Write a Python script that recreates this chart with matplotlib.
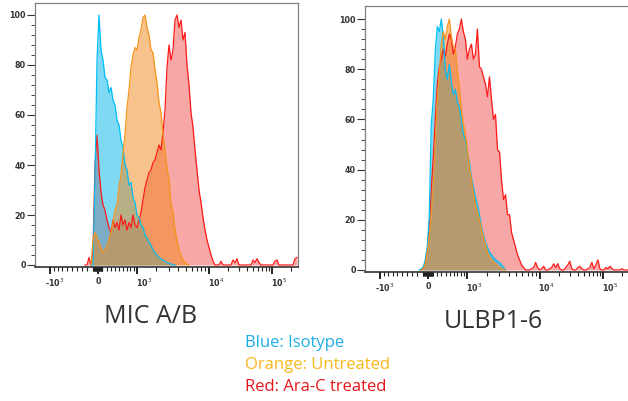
import numpy as np
import matplotlib.pyplot as plt
from matplotlib.transforms import ScaledTranslation

# histogram bins are in display channels (2 channels per bin), heights in % of max
STEP = 2

# MIC A/B panel
mic_blue_start = -6
mic_blue = [0, 0, 35, 82, 100, 86, 82, 75, 74, 69, 71, 66, 64, 58, 56, 50, 47, 40, 38, 32,
            33, 27, 25, 20, 19, 16, 15, 12, 11, 9, 8, 6, 5, 4, 3, 2.5, 2, 1.5, 1, 0.7,
            0.4, 0.2, 0]
mic_orange_start = -6
mic_orange = [0, 10, 13, 11, 9, 7, 5, 6, 8, 10, 13, 17, 22, 24, 31, 36, 45, 52, 63, 70,
              79, 84, 87, 86, 91, 94, 99, 100, 95, 92, 86, 85, 78, 73, 65, 61, 52, 46, 39, 34,
              25, 21, 14, 10, 6, 4, 2, 1, 0.5, 0]
mic_red_start = -12
mic_red = [0, 0, 3, 0, 6, 40, 52, 38, 29, 24, 22, 18, 15, 13, 18, 15, 17, 14, 20, 16,
           18, 14, 17, 15, 20, 16, 15, 18, 21, 26, 31, 34, 37, 38, 41, 42, 45, 48, 46, 53,
           62, 79, 88, 82, 86, 98, 100, 95, 98, 90, 93, 80, 72, 61, 55, 46, 38, 30, 25, 19,
           14, 10, 7, 4, 1.5, 0,
           0, 0, 1.5, 0, 0, 0, 0, 0, 2, 1, 2.5, 0, 0, 0, 0, 0, 0, 0, 2, 1,
           2.5, 1, 0, 0, 0, 0, 0, 0, 0, 1.5, 2, 0, 0, 0, 0, 0, 0, 0, 0, 2.5, 3]

# ULBP1-6 panel
ulbp_blue_start = -8
ulbp_blue = [0, 0.5, 1, 4, 9, 21, 58, 68, 87, 97, 95, 100, 93, 80, 76, 82, 75, 70, 72, 67,
             65, 60, 54, 52, 47, 43, 37, 33, 29, 26, 22, 17, 14, 11, 9, 7, 6, 5, 4, 3.5,
             3, 2, 1, 0]
ulbp_orange_start = -6
ulbp_orange = [0, 0.5, 2, 7, 13, 22, 33, 50, 68, 78, 90, 95, 92, 97, 100, 93, 89, 88, 79, 73,
               64, 58, 54, 48, 41, 36, 30, 26, 23, 20, 16, 13, 10, 7, 5, 4, 3, 2.5, 1.5, 1,
               0.5, 0.2, 0]
ulbp_red_start = -6
ulbp_red = [0, 1, 3, 8, 18, 32, 45, 60, 74, 81, 84, 88, 85, 90, 94, 92, 86, 89, 94, 96,
            100, 95, 92, 84, 88, 90, 84, 86, 96, 81, 80, 77, 74, 69, 77, 68, 60, 62, 48, 47,
            36, 28, 30, 22, 22, 15, 12, 9, 6, 4, 2, 1, 0,
            0, 0, 0.5, 1, 3, 1, 0, 0.5, 1.5, 0, 0, 0.5, 1, 2.5, 1, 2.5, 0.5, 0, 0, 1,
            2, 3.5, 0.5, 0, 0, 1, 1.5, 0.5, 0, 0, 0.5, 1, 3, 0.5, 2, 4, 0.5, 0, 0, 1,
            0.5, 1.5, 0.5, 0, 0, 0, 0, 0.5, 0, 0, 0, 0, 0, 0, 0, 0, 0, 0, 0]

# axis calibration: fluorescence value -> display channel
dec_values = [-1e3, 0, 1e3, 1e4, 1e5, 1e6]
dec_channels = [-47, 1, 40, 112, 175, 237]
major_values = [-1e3, 0, 1e3, 1e4, 1e5]
major_labels = ['-10$^{3}$', '0', '10$^{3}$', '10$^{4}$', '10$^{5}$']
label_shift_px = [5, 0, 7, 7, 7]

legend_lines = ['Blue: Isotype', 'Orange: Untreated', 'Red: Ara-C treated']
legend_colors = ['#1daee6', '#f6b719', '#e8161c']

W, H = 628, 401


def to_channel(v):
    u = np.arcsinh(np.asarray(v, dtype=float) / 1000.0)
    return np.interp(u, np.arcsinh(np.array(dec_values) / 1000.0), dec_channels)


minor_values = []
for k in range(1, 10):
    minor_values += [-100 * k, -10 * k, 10 * k, 100 * k, 1000 * k, 1e4 * k, 1e5 * k]
minor_values = [v for v in minor_values if abs(v) not in (1000, 1e4, 1e5)]

fig = plt.figure(figsize=(W / 100, H / 100), dpi=100)


def px_axes(l, t, r, b):
    return fig.add_axes([l / W, 1 - b / H, (r - l) / W, (b - t) / H])


def draw(ax, start, y, line, fill, alpha):
    y = np.array(y, dtype=float)
    x = start + STEP * np.arange(len(y))
    ax.fill_between(x, y, 0, color=fill, alpha=alpha, lw=0)
    ax.plot(x, y, color=line, lw=0.9)


def style(ax, ylim):
    ax.set_xticks(to_channel(major_values))
    ax.set_xticklabels(major_labels)
    ax.set_xticks(to_channel(minor_values), minor=True)
    ax.set_yticks(range(0, 101, 20))
    ax.set_yticks(range(0, 101, 4), minor=True)
    ax.set_xlim(-62, 201)
    ax.set_ylim(*ylim)
    ax.tick_params(axis='x', which='major', length=5, width=1.3, pad=2, color='#111111',
                   labelsize=5.8, labelcolor='#333333')
    ax.tick_params(axis='x', which='minor', length=2.8, width=0.8, color='#222222')
    ax.tick_params(axis='y', which='major', length=5.5, width=0.8, pad=1, color='#333333',
                   labelsize=5.8, labelcolor='#333333')
    ax.tick_params(axis='y', which='minor', length=2.8, width=0.7, color='#444444')
    for lab in ax.get_yticklabels():
        lab.set_fontweight('bold')
    for lab, dx in zip(ax.get_xticklabels(), label_shift_px):
        lab.set_fontweight('bold')
        lab.set_transform(lab.get_transform() + ScaledTranslation(dx / 100, 0, fig.dpi_scale_trans))
    for side in ['top', 'right', 'left']:
        ax.spines[side].set_color('#808080')
        ax.spines[side].set_linewidth(0.9)
    ax.spines['bottom'].set_color('#222222')
    ax.spines['bottom'].set_linewidth(1.1)


axL = px_axes(35, 3, 298, 267)
draw(axL, mic_red_start, mic_red, '#ff1a1a', '#f03c3c', 0.45)
draw(axL, mic_blue_start, mic_blue, '#00bff5', '#00b4e6', 0.5)
draw(axL, mic_orange_start, mic_orange, '#f7941d', '#f08719', 0.5)
style(axL, (-0.8, 104.8))

axR = px_axes(365, 6, 629, 272)
draw(axR, ulbp_red_start, ulbp_red, '#ff1a1a', '#f03c3c', 0.45)
draw(axR, ulbp_blue_start, ulbp_blue, '#00bff5', '#00b4e6', 0.5)
draw(axR, ulbp_orange_start, ulbp_orange, '#f7941d', '#f08719', 0.5)
style(axR, (-0.8, 105.2))

fig.text(150.5 / W, 1 - 323 / H, 'MIC A/B', ha='center', va='baseline',
         fontsize=18, family='Open Sans', color='#333333')
fig.text(493.5 / W, 1 - 328 / H, 'ULBP1-6', ha='center', va='baseline',
         fontsize=18, family='Open Sans', color='#333333')

for i, (txt, col) in enumerate(zip(legend_lines, legend_colors)):
    fig.text(245 / W, 1 - (347 + 22 * i) / H, txt, ha='left', va='baseline',
             fontsize=12, family='Open Sans', color=col)

fig.savefig('out.png', dpi=100)
